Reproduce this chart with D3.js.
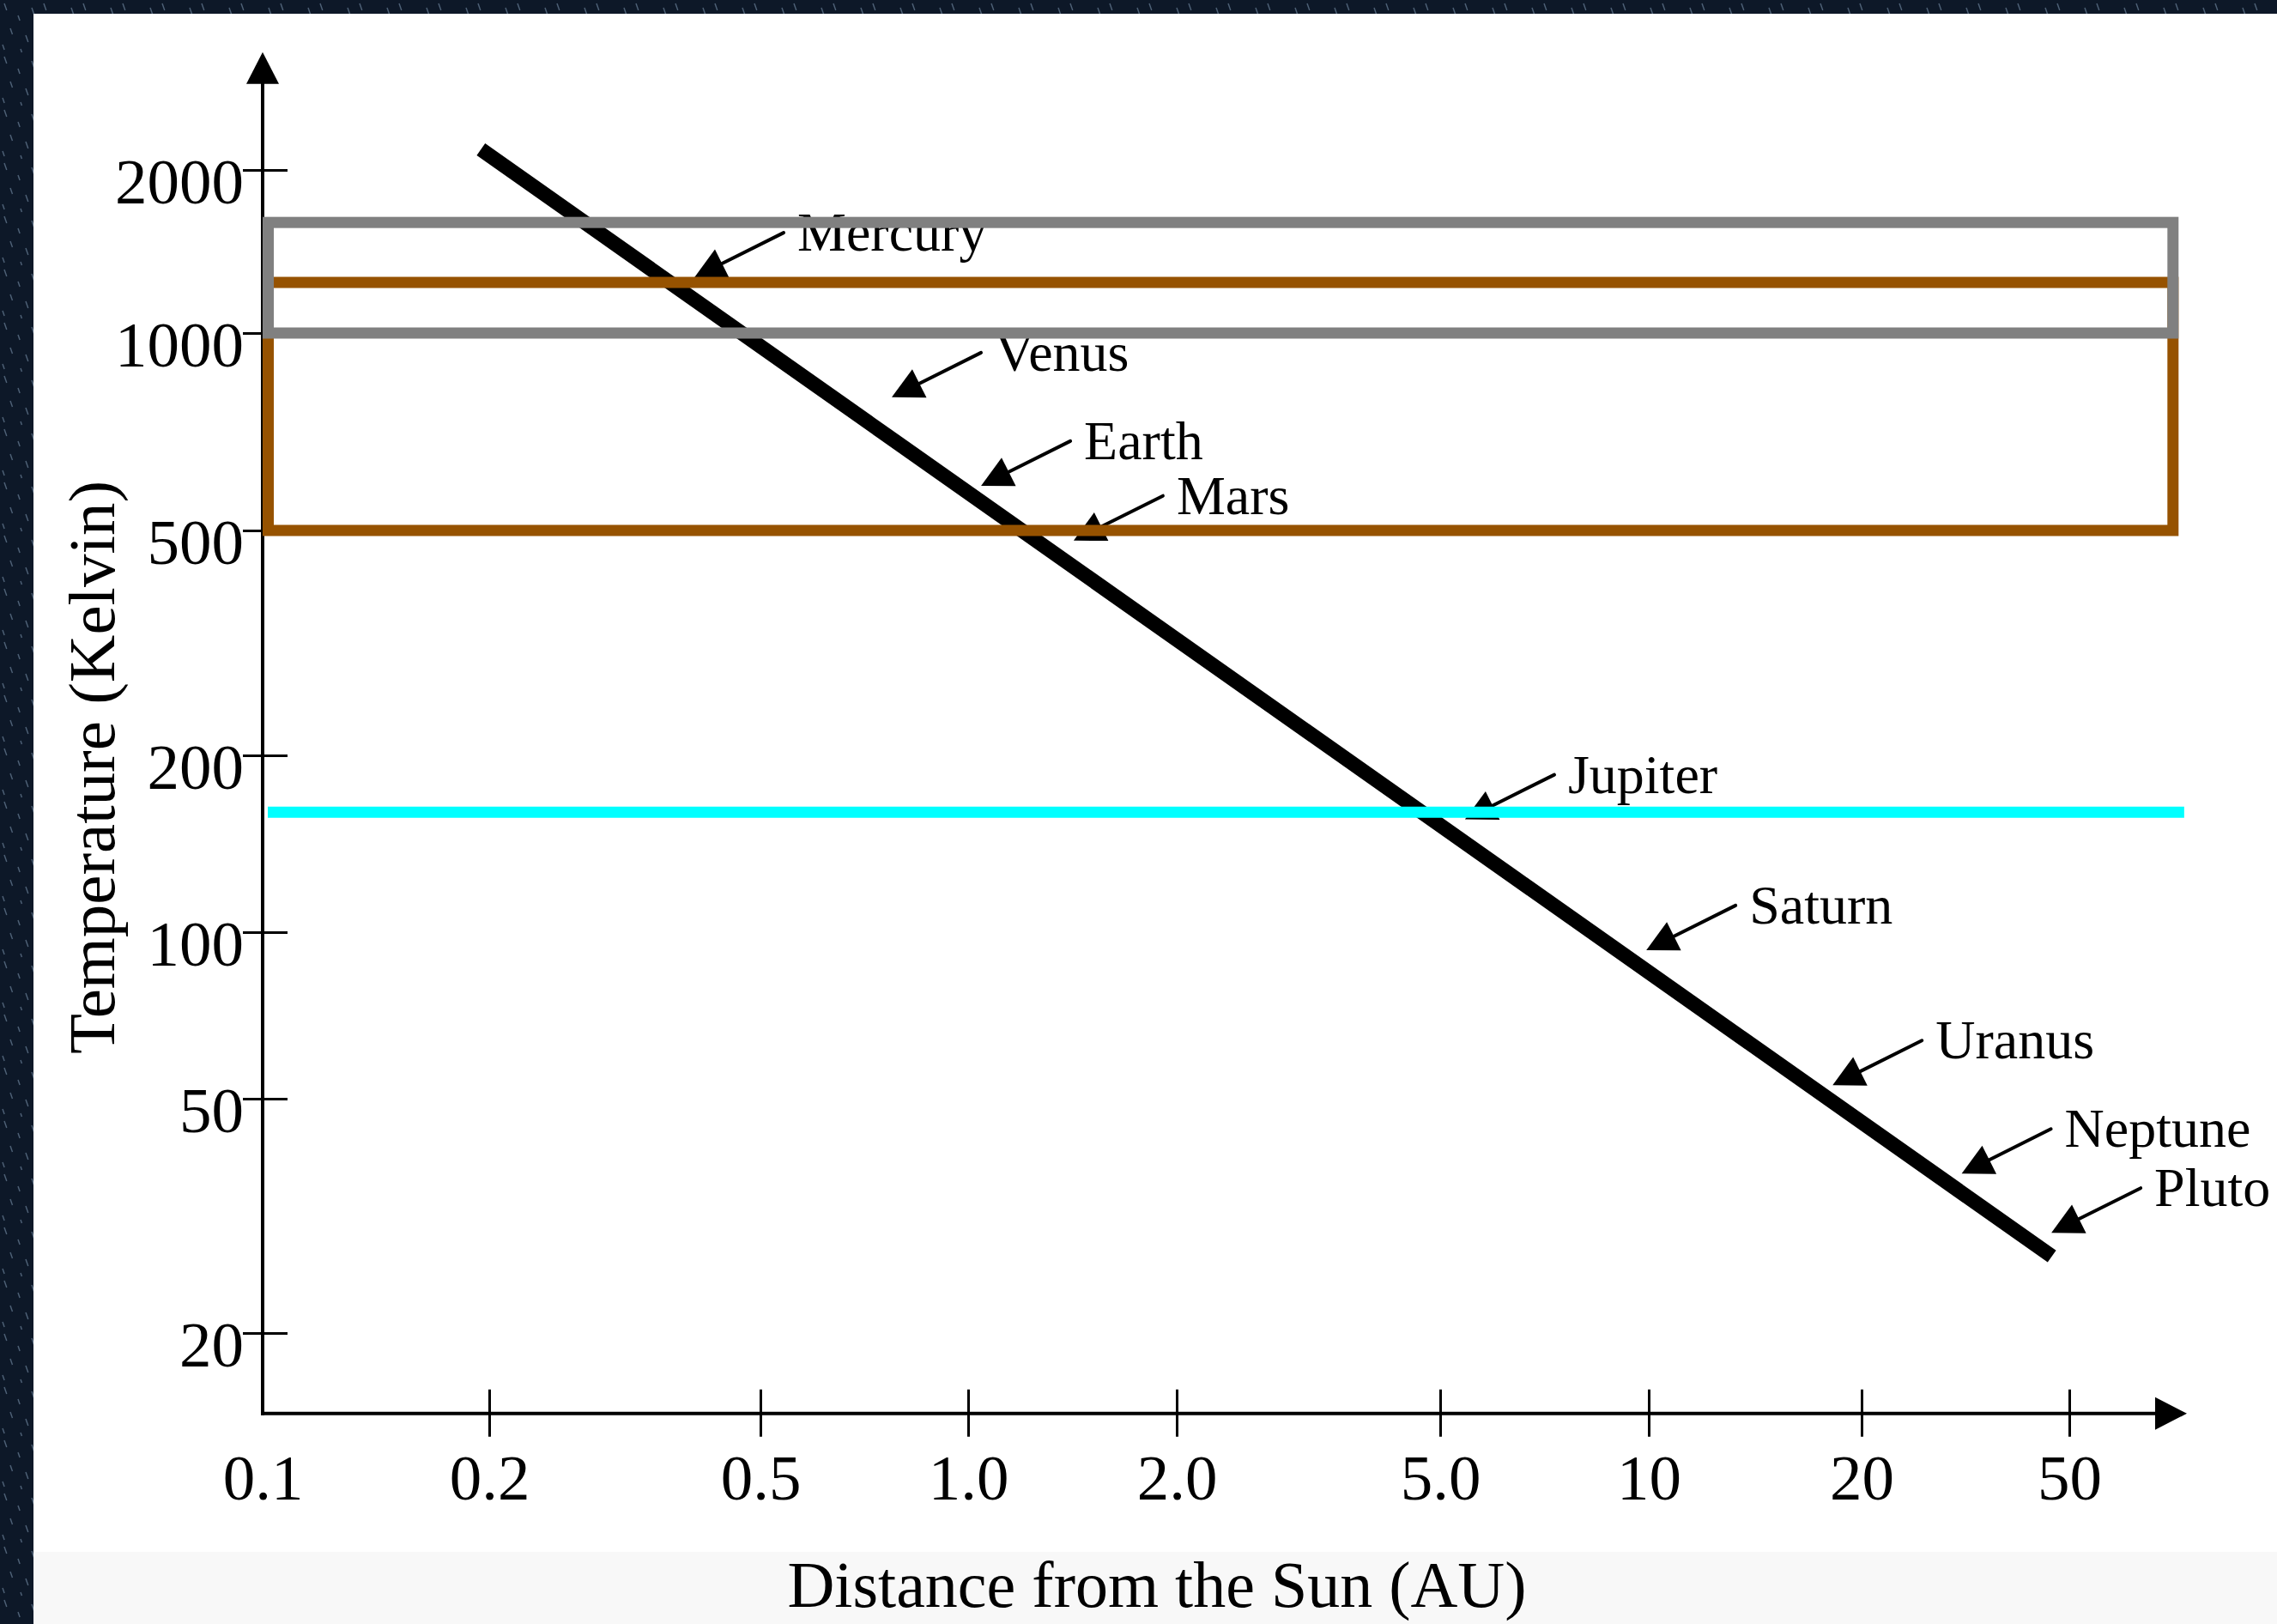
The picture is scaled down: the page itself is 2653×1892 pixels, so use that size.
<!DOCTYPE html>
<html>
<head>
<meta charset="utf-8">
<script src="https://cdn.jsdelivr.net/npm/d3@7"></script>
<style>
  html, body { margin: 0; padding: 0; background: #0d1828; overflow: hidden; }
  svg text { font-family: "Liberation Serif", "Times New Roman", Times, serif; fill: #000; }
</style>
</head>
<body>
<svg id="chart" width="2653" height="1892"></svg>
<script>
// ---- data -------------------------------------------------------------
const xTickValues = [0.1, 0.2, 0.5, 1, 2, 5, 10, 20, 50];
const xTickLabels = ["0.1", "0.2", "0.5", "1.0", "2.0", "5.0", "10", "20", "50"];
const yTickValues = [20, 50, 100, 200, 500, 1000, 2000];
const yTickLabels = ["20", "50", "100", "200", "500", "1000", "2000"];

// axis extents (AU, Kelvin), arrows end here
const xAxisExtent = [0.1, 84];
const yAxisExtent = [14.6, 3300];

// temperature profile of the nebula (straight in log-log)
const profileDistance = [0.195, 46.3];
const profileTemperature = [2183, 27.0];

// planets: where each arrow points
const planetNames = ["Mercury", "Venus", "Earth", "Mars", "Jupiter", "Saturn", "Uranus", "Neptune", "Pluto"];
const planetDistance = [0.40, 0.775, 1.044, 1.42, 5.43, 9.92, 18.2, 31.1, 46.2];
const planetArrowTemperature = [1267, 798, 585, 480, 155.6, 92.8, 52.9, 37.3, 29.6];

// condensation ranges drawn as outlined bands
const bandLow = [500, 1000];
const bandHigh = [1240, 1600];
const bandStart = [0.1, 0.1];
const bandEnd = [79, 79];
const bandColors = ["#965200", "#808080"];

// frost line
const frostTemperature = 160;
const frostRange = [0.1, 83];
const frostColor = "#00ffff";

// ---- layout -----------------------------------------------------------
const W = 2653, H = 1892;
const X_STOPS = [306, 570, 886, 1128, 1371, 1678, 1921, 2169, 2411];
const Y_STOPS = [1553, 1280, 1086, 880, 618, 388, 198];

const x = d3.scaleLog().domain(xTickValues).range(X_STOPS);
const y = d3.scaleLog().domain(yTickValues).range(Y_STOPS);

const svg = d3.select("#chart");

// starry backdrop
const defs = svg.append("defs");
const pat = defs.append("pattern")
  .attr("id", "streaks").attr("patternUnits", "userSpaceOnUse")
  .attr("width", 46).attr("height", 62);
pat.append("rect").attr("width", 46).attr("height", 62).attr("fill", "#0d1828");
[[5, 4, 8], [21, 18, 6], [37, 9, 9], [12, 33, 7], [30, 41, 8], [42, 52, 5], [3, 52, 6], [24, 57, 4]]
  .forEach(([sx, sy, len]) => {
    pat.append("line")
      .attr("x1", sx).attr("y1", sy)
      .attr("x2", sx + len * 0.35).attr("y2", sy + len)
      .attr("stroke", "#9dbbd8").attr("stroke-opacity", 0.45)
      .attr("stroke-width", 1.4);
  });
svg.append("rect").attr("width", W).attr("height", H).attr("fill", "url(#streaks)");

// white sheet and pale footer strip
svg.append("rect").attr("x", 39).attr("y", 16).attr("width", W - 39).attr("height", H - 16).attr("fill", "#ffffff");
svg.append("rect").attr("x", 39).attr("y", 1808).attr("width", W - 39).attr("height", H - 1808).attr("fill", "#f8f8f8");

const x0 = x(xAxisExtent[0]);
const yBase = y(yAxisExtent[0]);

// ---- axis titles --------------------------------------------------------
svg.append("text")
  .attr("x", 1348).attr("y", 1872)
  .attr("text-anchor", "middle")
  .attr("font-size", 76)
  .text("Distance from the Sun (AU)");

svg.append("text")
  .attr("transform", "translate(133,894) rotate(-90)")
  .attr("text-anchor", "middle")
  .attr("font-size", 77)
  .text("Temperature (Kelvin)");

// ---- temperature profile ----------------------------------------------
const profile = profileDistance.map((d, i) => [d, profileTemperature[i]]);
svg.append("path")
  .datum(profile)
  .attr("d", d3.line().x(d => x(d[0])).y(d => y(d[1])))
  .attr("fill", "none")
  .attr("stroke", "#000")
  .attr("stroke-width", 17)
  .attr("stroke-linecap", "butt");

// ---- axes ---------------------------------------------------------------
const TICK_FONT = 75;

const yAxis = d3.axisLeft(y)
  .tickValues(yTickValues)
  .tickFormat((d, i) => yTickLabels[i])
  .tickSize(23)
  .tickPadding(0);
const gy = svg.append("g").attr("transform", `translate(${x0},0)`).call(yAxis);
gy.select(".domain").remove();
gy.selectAll(".tick line").attr("x1", 29).attr("stroke", "#000").attr("stroke-width", 3);
gy.selectAll(".tick text")
  .attr("x", -22).attr("dy", "0.51em")
  .attr("font-size", TICK_FONT)
  .attr("font-family", "Liberation Serif, Times New Roman, serif");

const xAxis = d3.axisBottom(x)
  .tickValues(xTickValues)
  .tickFormat((d, i) => xTickLabels[i])
  .tickSize(27)
  .tickPadding(0);
const gx = svg.append("g").attr("transform", `translate(0,${yBase})`).call(xAxis);
gx.select(".domain").remove();
gx.selectAll(".tick line")
  .attr("y1", -28).attr("stroke", "#000").attr("stroke-width", 3)
  .attr("display", (d, i) => i === 0 ? "none" : null);
gx.selectAll(".tick text")
  .attr("y", 100).attr("dy", 0)
  .attr("font-size", TICK_FONT)
  .attr("font-family", "Liberation Serif, Times New Roman, serif");

// axis lines with arrowheads
const yTip = y(yAxisExtent[1]);
const xTip = x(xAxisExtent[1]);
const AX_HEAD = 37, AX_HALF = 19;
svg.append("line")
  .attr("x1", x0).attr("y1", yBase + 2).attr("x2", x0).attr("y2", yTip + AX_HEAD - 2)
  .attr("stroke", "#000").attr("stroke-width", 4);
svg.append("path")
  .attr("d", `M${x0},${yTip} L${x0 - AX_HALF},${yTip + AX_HEAD} L${x0 + AX_HALF},${yTip + AX_HEAD} Z`)
  .attr("fill", "#000");
svg.append("line")
  .attr("x1", x0 - 2).attr("y1", yBase).attr("x2", xTip - AX_HEAD + 2).attr("y2", yBase)
  .attr("stroke", "#000").attr("stroke-width", 4);
svg.append("path")
  .attr("d", `M${xTip},${yBase} L${xTip - AX_HEAD},${yBase - AX_HALF} L${xTip - AX_HEAD},${yBase + AX_HALF} Z`)
  .attr("fill", "#000");

// ---- planet arrows and labels ------------------------------------------
const ARROW_DX = 104, ARROW_DY = -52;
const HEAD_LEN = 36, HEAD_HALF = 18.5;
const alen = Math.hypot(ARROW_DX, ARROW_DY);
const ux = ARROW_DX / alen, uy = ARROW_DY / alen;
const px = -uy, py = ux;

const planets = planetNames.map((n, i) => ({ name: n, d: planetDistance[i], t: planetArrowTemperature[i] }));
const pg = svg.append("g").selectAll("g").data(planets).join("g")
  .attr("transform", p => `translate(${x(p.d)},${y(p.t)})`);

pg.append("line")
  .attr("x1", ARROW_DX).attr("y1", ARROW_DY)
  .attr("x2", ux * HEAD_LEN * 0.8).attr("y2", uy * HEAD_LEN * 0.8)
  .attr("stroke", "#000").attr("stroke-width", 4).attr("stroke-linecap", "round");
pg.append("path")
  .attr("d", () => {
    const bx = ux * HEAD_LEN, by = uy * HEAD_LEN;
    return `M0,0 L${bx + px * HEAD_HALF},${by + py * HEAD_HALF} L${bx - px * HEAD_HALF},${by - py * HEAD_HALF} Z`;
  })
  .attr("fill", "#000");
pg.append("text")
  .attr("x", ARROW_DX + 16).attr("y", ARROW_DY + 21)
  .attr("font-size", 64)
  .text(p => p.name);

// ---- condensation bands and frost line ---------------------------------
const BAND_SW = 13;
bandLow.forEach((lo, i) => {
  const left = x(bandStart[i]) + BAND_SW / 2;
  const right = x(bandEnd[i]);
  svg.append("rect")
    .attr("x", left).attr("y", y(bandHigh[i]))
    .attr("width", right - left)
    .attr("height", y(lo) - y(bandHigh[i]))
    .attr("fill", "none")
    .attr("stroke", bandColors[i])
    .attr("stroke-width", BAND_SW);
});

svg.append("line")
  .attr("x1", x(frostRange[0]) + 6).attr("x2", x(frostRange[1]))
  .attr("y1", y(frostTemperature)).attr("y2", y(frostTemperature))
  .attr("stroke", frostColor).attr("stroke-width", BAND_SW);
</script>
</body>
</html>
